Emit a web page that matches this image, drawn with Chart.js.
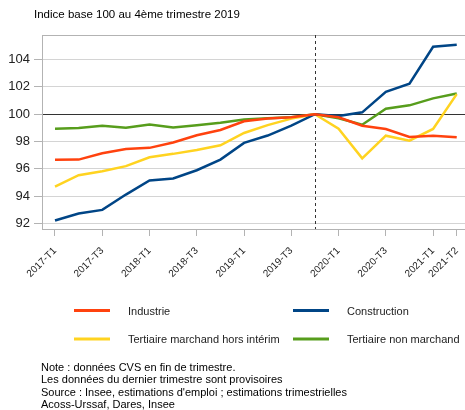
<!DOCTYPE html>
<html>
<head>
<meta charset="utf-8">
<script src="https://cdn.jsdelivr.net/npm/chart.js@4"></script>
<style>
  html, body { margin: 0; padding: 0; background: #fff; }
  #wrap { width: 465px; height: 410px; }
</style>
</head>
<body>
<div id="wrap"><canvas id="lineChart" width="465" height="410"></canvas></div>
<script>
// trimestres
const quarters = [
  '2017-T1', '2017-T2', '2017-T3', '2017-T4',
  '2018-T1', '2018-T2', '2018-T3', '2018-T4',
  '2019-T1', '2019-T2', '2019-T3', '2019-T4',
  '2020-T1', '2020-T2', '2020-T3', '2020-T4',
  '2021-T1', '2021-T2'
];
// trimestres affichés sur l'axe
const shownQuarters = ['2017-T1', '2017-T3', '2018-T1', '2018-T3', '2019-T1',
  '2019-T3', '2020-T1', '2020-T3', '2021-T1', '2021-T2'];
const yTicks = [92, 94, 96, 98, 100, 102, 104];

// séries (indice base 100 au 2019-T4)
const industrie = [96.66, 96.68, 97.15, 97.46, 97.54, 97.93, 98.46, 98.85, 99.49,
  99.68, 99.78, 100, 99.78, 99.16, 98.92, 98.34, 98.43, 98.31];
const construction = [92.22, 92.73, 93.0, 94.12, 95.15, 95.3, 95.9, 96.68, 97.9,
  98.44, 99.17, 100, 99.88, 100.14, 101.64, 102.24, 104.94, 105.08];
const tertiaireMarchand = [94.71, 95.54, 95.83, 96.2, 96.85, 97.1, 97.39, 97.73, 98.63,
  99.2, 99.68, 100, 98.94, 96.77, 98.43, 98.07, 98.92, 101.47];
const tertiaireNonMarchand = [98.93, 99.0, 99.15, 99.02, 99.24, 99.03, 99.2, 99.37, 99.61,
  99.71, 99.78, 100, 99.71, 99.23, 100.41, 100.65, 101.16, 101.52];

const notes = [
  'Note : données CVS en fin de trimestre.',
  'Les données du dernier trimestre sont provisoires',
  "Source : Insee, estimations d'emploi ; estimations trimestrielles",
  'Acoss-Urssaf, Dares, Insee'
];

const FONT = '"Liberation Sans", Arial, sans-serif';

function toPoints(arr) {
  return arr.map((v, i) => ({ x: i, y: v }));
}

function serie(label, values, color) {
  return {
    label: label,
    data: toPoints(values),
    borderColor: color,
    backgroundColor: color,
    borderWidth: 2.5,
    pointRadius: 0,
    tension: 0
  };
}

// texte, légende, ligne pointillée et cadre
const decor = {
  id: 'decor',
  beforeDatasetsDraw(chart) {
    const { ctx, chartArea, scales } = chart;
    ctx.save();
    // cadre haut
    ctx.strokeStyle = '#b3b3b3';
    ctx.lineWidth = 1;
    ctx.beginPath();
    ctx.moveTo(chartArea.left, Math.round(chartArea.top) + 0.5);
    ctx.lineTo(chartArea.right, Math.round(chartArea.top) + 0.5);
    ctx.stroke();
    // 2019-T4 pointillé
    const xr = Math.round(scales.x.getPixelForValue(quarters.indexOf('2019-T4'))) + 0.5;
    ctx.strokeStyle = '#333';
    ctx.setLineDash([3, 3]);
    ctx.beginPath();
    ctx.moveTo(xr, chartArea.top);
    ctx.lineTo(xr, chartArea.bottom);
    ctx.stroke();
    ctx.restore();
  },
  afterDraw(chart) {
    const { ctx } = chart;
    ctx.save();
    ctx.fillStyle = '#000';
    ctx.textBaseline = 'middle';
    ctx.font = '11.5px ' + FONT;
    ctx.fillText('Indice base 100 au 4ème trimestre 2019', 34, 15);

    // légende 2 colonnes
    const cols = [{ line: 74, text: 128 }, { line: 293, text: 347 }];
    const rows = [310.5, 339];
    ctx.font = '11px ' + FONT;
    chart.data.datasets.forEach((ds, i) => {
      const c = cols[i % 2], y = rows[Math.floor(i / 2)];
      ctx.strokeStyle = ds.borderColor;
      ctx.lineWidth = 3;
      ctx.beginPath();
      ctx.moveTo(c.line, y);
      ctx.lineTo(c.line + 36, y);
      ctx.stroke();
      ctx.fillStyle = '#222';
      ctx.fillText(ds.label, c.text, y + 1);
    });

    // notes
    ctx.fillStyle = '#000';
    ctx.font = '11px ' + FONT;
    notes.forEach((t, i) => ctx.fillText(t, 41, 367.5 + i * 12.5));
    ctx.restore();
  }
};

new Chart(document.getElementById('lineChart'), {
  type: 'line',
  data: {
    datasets: [
      serie('Industrie', industrie, '#FF420E'),
      serie('Construction', construction, '#004586'),
      serie('Tertiaire marchand hors intérim', tertiaireMarchand, '#FFD320'),
      serie('Tertiaire non marchand', tertiaireNonMarchand, '#579D1C')
    ]
  },
  options: {
    responsive: false,
    animation: false,
    devicePixelRatio: 1,
    layout: { padding: { top: 35, left: 0, right: 0, bottom: 120 } },
    plugins: {
      legend: { display: false },
      title: { display: false },
      tooltip: { enabled: false }
    },
    scales: {
      x: {
        type: 'linear',
        min: -0.55,
        max: 17.35,
        afterFit: s => {
          s.height = 61;
          s.paddingLeft = 0;
          s.paddingRight = 0;
        },
        afterBuildTicks: s => {
          s.ticks = shownQuarters.map(q => ({ value: quarters.indexOf(q) }));
        },
        grid: { drawOnChartArea: false, drawTicks: true, tickLength: 7, color: '#b3b3b3' },
        border: { color: '#b3b3b3' },
        ticks: {
          autoSkip: false,
          minRotation: 45,
          maxRotation: 45,
          padding: 9,
          color: '#222',
          font: { family: FONT, size: 10 },
          callback: v => quarters[v]
        }
      },
      y: {
        min: 91.6,
        max: 105.8,
        afterFit: s => { s.width = 42; },
        afterBuildTicks: s => { s.ticks = yTicks.map(v => ({ value: v })); },
        grid: {
          color: c => (c.tick && c.tick.value === 100 ? '#333' : '#d4d4d4'),
          tickColor: '#b3b3b3',
          tickLength: 8
        },
        border: { color: '#b3b3b3' },
        ticks: {
          padding: 4,
          color: '#222',
          font: { family: FONT, size: 13 }
        }
      }
    }
  },
  plugins: [decor]
});
</script>
</body>
</html>
